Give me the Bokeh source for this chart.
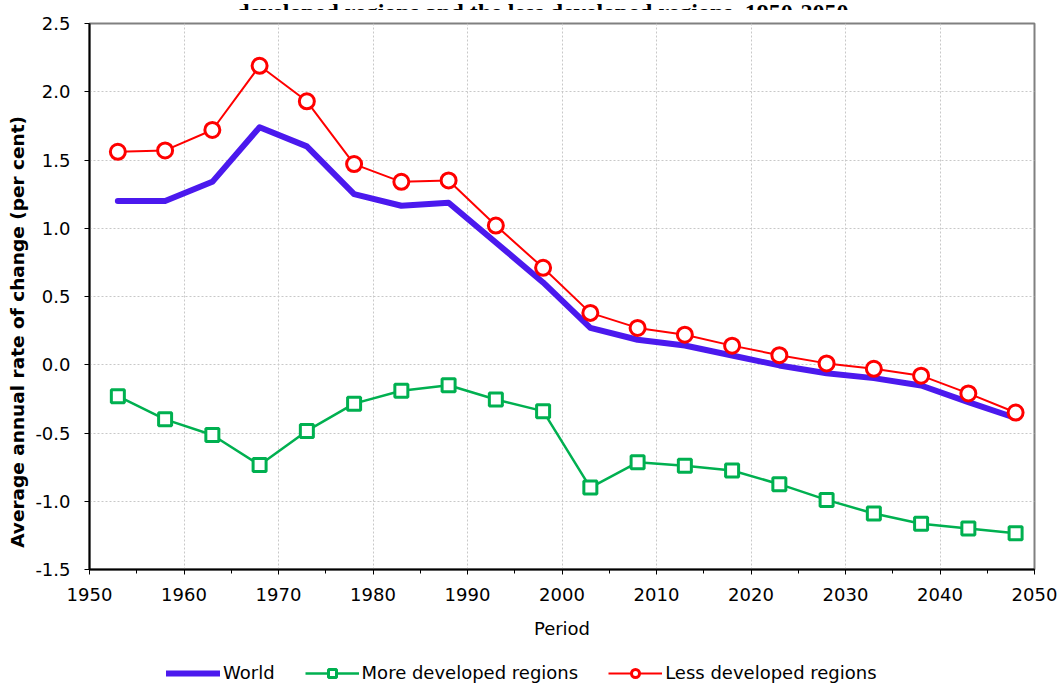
from bokeh.plotting import figure
from bokeh.layouts import column
from bokeh.models import (Range1d, SingleIntervalTicker, NumeralTickFormatter, FixedTicker,
                          LinearAxis, Legend, LegendItem, ColumnDataSource)
from bokeh.core.properties import value
from bokeh.embed import file_html
from bokeh.resources import INLINE

years = [1953, 1958, 1963, 1968, 1973, 1978, 1983, 1988, 1993, 1998,
         2003, 2008, 2013, 2018, 2023, 2028, 2033, 2038, 2043, 2048]
world = [1.20, 1.20, 1.34, 1.74, 1.60, 1.25, 1.165, 1.187, 0.896, 0.603,
         0.27, 0.183, 0.141, 0.068, -0.005, -0.062, -0.098, -0.152, -0.274, -0.39]
more_dev = [-0.23, -0.40, -0.515, -0.735, -0.485, -0.285, -0.19, -0.15, -0.255, -0.34,
            -0.90, -0.715, -0.74, -0.775, -0.875, -0.99, -1.09, -1.165, -1.20, -1.235]
less_dev = [1.56, 1.57, 1.72, 2.19, 1.93, 1.47, 1.34, 1.35, 1.02, 0.71,
            0.38, 0.27, 0.22, 0.14, 0.07, 0.01, -0.03, -0.08, -0.21, -0.35]

series_names = ["World", "More developed regions", "Less developed regions"]
title_text = "developed regions and the less developed regions, 1950-2050"
x_label = "Period"
y_label = "Average annual rate of change (per cent)"

src = ColumnDataSource(dict(x=years, world=world, more=more_dev, less=less_dev))

FONT = "DejaVu Sans"
BLUE = "#4B19EE"
GREEN = "#00B050"
RED = "#FF0000"

# ---------------- title strip (only the lower part of the title shows) ----------------
ts = figure(width=1060, height=10, output_backend="svg", toolbar_location=None,
            x_range=Range1d(0, 1060), y_range=Range1d(0, 10),
            x_axis_location=None, y_axis_location=None,
            min_border_left=0, min_border_right=0, min_border_top=0,
            min_border_bottom=0, background_fill_color="white",
            border_fill_color="white")
ts.grid.visible = False
ts.outline_line_color = None
ts.text(x=[508], y=[1], text=[title_text], text_align="center",
        text_baseline="alphabetic", text_font=value("Liberation Serif"),
        text_font_size="24px", text_font_style="bold", text_color="black")

# ---------------- main chart ----------------
p = figure(width=1060, height=645, output_backend="svg", toolbar_location=None,
           x_range=Range1d(1950, 2050), y_range=Range1d(-1.5, 2.5),
           min_border_left=89, min_border_right=26, min_border_top=13,
           min_border_bottom=86, background_fill_color="white",
           border_fill_color="white")

p.outline_line_color = "#808080"
p.outline_line_width = 2

for g in (p.xgrid, p.ygrid):
    g.grid_line_color = "#c8c8c8"
    g.grid_line_dash = "2 2"
    g.grid_line_width = 1

xa = p.xaxis[0]
xa.ticker = SingleIntervalTicker(interval=10, num_minor_ticks=2)
xa.axis_label = x_label
xa.axis_line_color = "black"
xa.axis_line_width = 2
xa.major_tick_out = 5
xa.major_tick_in = 0
xa.minor_tick_out = 4
xa.minor_tick_in = 0
xa.major_tick_line_color = "black"
xa.minor_tick_line_color = "black"
xa.major_label_text_font = FONT
xa.major_label_text_font_size = "18px"
xa.major_label_text_color = "black"
xa.major_label_standoff = 13
xa.axis_label_text_font = FONT
xa.axis_label_text_font_size = "18px"
xa.axis_label_text_font_style = "normal"
xa.axis_label_text_color = "black"
xa.axis_label_standoff = 14

ya = p.yaxis[0]
ya.ticker = SingleIntervalTicker(interval=0.5, num_minor_ticks=0)
ya.formatter = NumeralTickFormatter(format="0.0")
ya.axis_line_color = "black"
ya.axis_line_width = 2
ya.major_tick_out = 5
ya.major_tick_in = 0
ya.minor_tick_line_color = None
ya.major_tick_line_color = "black"
ya.major_label_text_font = FONT
ya.major_label_text_font_size = "18px"
ya.major_label_text_color = "black"
ya.major_label_standoff = 14

# y-axis title on a bare outer axis; trailing no-break spaces move it lower,
# as it sits in the reference
ytitle_axis = LinearAxis(ticker=FixedTicker(ticks=[]),
                         axis_label=y_label + "\u00a0" * 11, axis_line_color=None,
                         major_tick_line_color=None, minor_tick_line_color=None,
                         major_tick_out=0, major_tick_in=0, minor_tick_out=0,
                         minor_tick_in=0, major_label_text_font_size="0px",
                         axis_label_standoff=5, axis_label_text_font=FONT,
                         axis_label_text_font_size="18.5px",
                         axis_label_text_font_style="bold",
                         axis_label_text_color="black")
p.add_layout(ytitle_axis, "left")


def draw_series(fig):
    r_w = fig.line("x", "world", source=src, line_color=BLUE, line_width=6,
                   line_cap="round", line_join="round")
    r_ml = fig.line("x", "more", source=src, line_color=GREEN, line_width=2.5)
    r_mm = fig.scatter("x", "more", source=src, marker="square", size=13,
                       line_color=GREEN, line_width=3, fill_color="white")
    r_ll = fig.line("x", "less", source=src, line_color=RED, line_width=2)
    r_lm = fig.scatter("x", "less", source=src, marker="circle", size=15,
                       line_color=RED, line_width=3, fill_color="white")
    return r_w, r_ml, r_mm, r_ll, r_lm


draw_series(p)

# ---------------- legend strip ----------------
lg = figure(width=1060, height=28, output_backend="svg", toolbar_location=None,
            x_range=Range1d(0, 1), y_range=Range1d(0, 1),
            min_border_left=0, min_border_right=0, min_border_top=0,
            min_border_bottom=0, background_fill_color="white",
            border_fill_color="white")
lg.axis.visible = False
lg.grid.visible = False
lg.outline_line_color = None

lw, lml, lmm, lll, llm = draw_series(lg)

legend = Legend(items=[
    LegendItem(label=series_names[0], renderers=[lw]),
    LegendItem(label=series_names[1], renderers=[lml, lmm]),
    LegendItem(label=series_names[2], renderers=[lll, llm]),
], orientation="horizontal", location=(77, 0), padding=0, margin=0,
    border_line_color=None, background_fill_alpha=0,
    glyph_width=54, glyph_height=20, label_standoff=3, spacing=30,
    label_text_font=FONT, label_text_font_size="18px", label_text_color="black")
lg.add_layout(legend, "center")

layout = column(ts, p, lg, spacing=0)

open("out.html", "w").write(file_html(layout, INLINE))
